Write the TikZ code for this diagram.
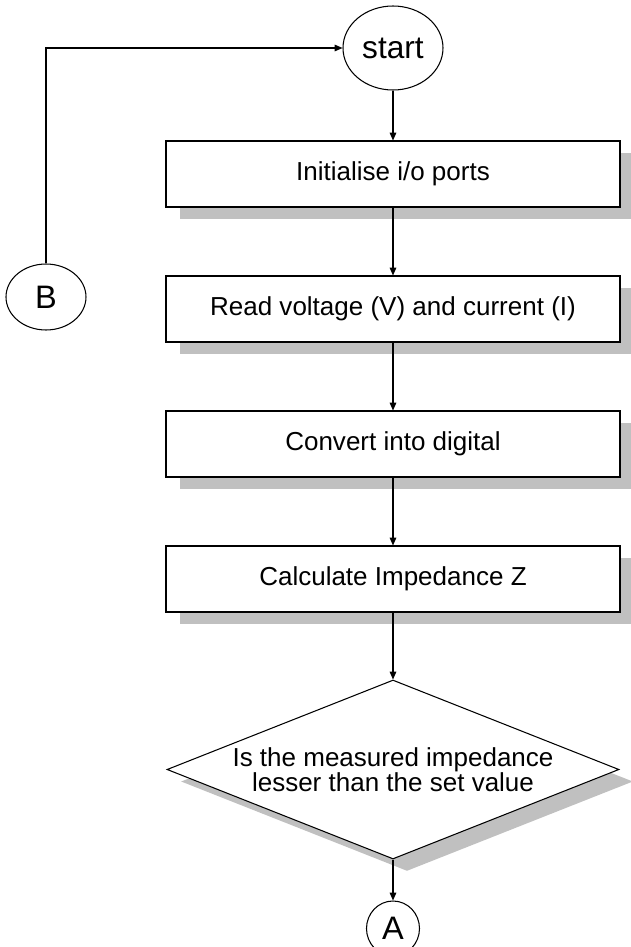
\documentclass[tikz,border=0pt]{standalone}
\usepackage{fontspec}
\setmainfont{Liberation Sans}
\usepackage{xcolor}
\usepackage{tikz}
\usetikzlibrary{shapes.geometric,shadows,arrows.meta}

\definecolor{shadowgray}{RGB}{192,192,192}

\begin{document}
\begin{tikzpicture}[node distance=2.7cm, auto]
    % Define styles
    \tikzstyle{shadowed} = [general shadow={fill=shadowgray, shadow xshift=0.28cm, shadow yshift=-0.24cm}]
    \tikzstyle{terminal} = [ellipse, minimum width=2cm, minimum height=1.68cm, inner sep=0pt, draw=black, line width=0.6pt, font=\fontsize{18pt}{20pt}\selectfont]
    \tikzstyle{joint} = [ellipse, inner sep=0pt, draw=black, line width=0.6pt, font=\fontsize{18.5pt}{20pt}\selectfont]
    \tikzstyle{process} = [rectangle, minimum width=9.08cm, minimum height=1.32cm, text centered, draw=black, line width=0.6pt, fill=white, shadowed, font=\fontsize{14.8pt}{17pt}\selectfont]
    \tikzstyle{decision} = [diamond, aspect=2.5, minimum width=9.04cm, minimum height=3.58cm, inner sep=0pt, align=center, draw=black, line width=0.6pt, fill=white, shadowed, font=\fontsize{14.8pt}{14.2pt}\selectfont]
    \tikzstyle{arrow} = [line width=0.6pt, ->, >={Stealth[length=4.5pt, width=3.8pt, inset=0pt]}]

    \useasboundingbox (-7.86,0.96) rectangle (4.74,-17.98);

    % Nodes
    \node [terminal] (start) {start};
    \node [process, below of=start, yshift=0.18cm] (init) {Initialise i/o ports};
    \node [process, below of=init] (read) {Read voltage (V) and current (I)};
    \node [process, below of=read] (convert) {Convert into digital};
    \node [process, below of=convert] (calc) {Calculate Impedance Z};
    \node [decision, below of=calc, yshift=-1.11cm] (check) {Is the measured impedance\\lesser than the set value};
    \node [joint, minimum width=1.06cm, minimum height=1.1cm, below of=check, yshift=-0.48cm] (conA) {A};
    \node [joint, minimum width=1.6cm, minimum height=1.32cm] at (-6.94,-4.98) (conB) {B};

    % Arrows
    \draw [arrow] (start) -- (init);
    \draw [arrow] (init) -- (read);
    \draw [arrow] (read) -- (convert);
    \draw [arrow] (convert) -- (calc);
    \draw [arrow] (calc) -- (check);
    \draw [arrow] (check) -- (conA);
    \draw [arrow] (conB.north) |- (start.west);
\end{tikzpicture}
\end{document}
